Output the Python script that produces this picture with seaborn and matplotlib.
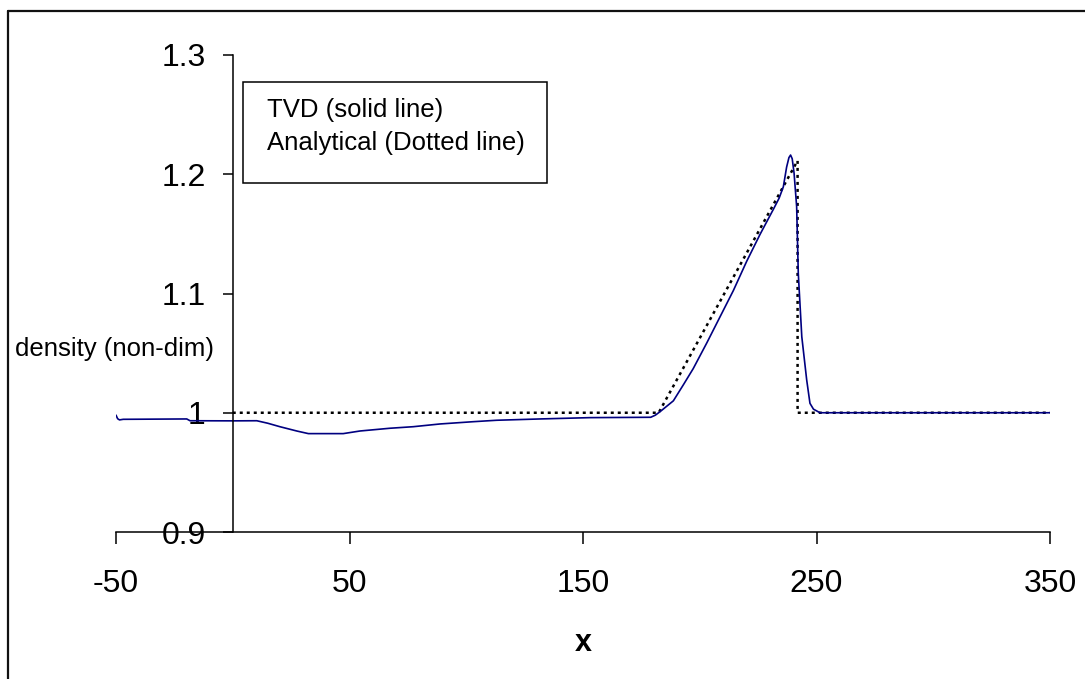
import matplotlib
matplotlib.use("Agg")
import matplotlib.pyplot as plt
import seaborn as sns
import pandas as pd
from matplotlib.lines import Line2D
from matplotlib.patches import Rectangle

# --- data ---
tvd_x = [-50, -49.3, -48.5, -46.9, -19.7, -18.3, 0.2, 10.3, 15.0, 20.2, 27.4, 32.4, 47.3,
         54.5, 67.3, 77.3, 88.8, 103, 113, 131.6, 153, 179, 181.0, 183.0, 188.7, 193.0,
         197.2, 203.0, 208.7, 214.4, 220.1, 225.8, 231.5, 234.0, 235.8, 237.2, 238.2,
         238.9, 239.6, 240.4, 241.5, 242.2, 243.7, 245.8, 247.2, 248.7, 251.5, 350]
tvd_y = [0.998, 0.9950, 0.9940, 0.9945, 0.9948, 0.9933, 0.9932, 0.9933, 0.9912, 0.9883,
         0.9847, 0.9825, 0.9825, 0.9847, 0.9870, 0.9883, 0.9906, 0.9925, 0.9937, 0.9948,
         0.9959, 0.9962, 0.9980, 1.0009, 1.0100, 1.0235, 1.0370, 1.0585, 1.0805, 1.1025,
         1.1270, 1.1495, 1.1705, 1.1800, 1.1895, 1.2060, 1.2140, 1.2161, 1.2130, 1.2008,
         1.1728, 1.1169, 1.0638, 1.0275, 1.0079, 1.0030, 1.0000, 1.0000]

ana_x = [0, 182.4, 241.9, 241.9, 350]
ana_y = [1.0, 1.0, 1.2114, 1.0, 1.0]

xticks = [-50, 50, 150, 250, 350]
yticks = [0.9, 1.0, 1.1, 1.2, 1.3]
ytick_labels = ["0.9", "1", "1.1", "1.2", "1.3"]

tvd = pd.DataFrame({"x": tvd_x, "y": tvd_y})
ana = pd.DataFrame({"x": ana_x, "y": ana_y})

sns.set_theme(style="white")
plt.rcParams["font.family"] = ["Liberation Sans", "DejaVu Sans"]

W, H = 1085, 679
fig = plt.figure(figsize=(W / 100, H / 100), dpi=100)
ax = fig.add_axes([116 / W, 1 - 532 / H, (1050 - 116) / W, (532 - 55) / H])

sns.lineplot(data=ana, x="x", y="y", ax=ax, sort=False, estimator=None,
             color="black", lw=1.8, linestyle=(0, (1.2, 1.6)))
sns.lineplot(data=tvd, x="x", y="y", ax=ax, sort=False, estimator=None,
             color="#000080", lw=1.2)

ax.set_xlim(-50, 350)
ax.set_ylim(0.9, 1.3)
ax.set_xticks(xticks)
ax.set_xticklabels([str(v) for v in xticks])
ax.set_yticks(yticks)
ax.set_yticklabels(ytick_labels)
ax.set_xlabel("")
ax.set_ylabel("")

for s in ["top", "right"]:
    ax.spines[s].set_visible(False)
ax.spines["left"].set_position(("data", 0))
for s in ["left", "bottom"]:
    ax.spines[s].set_color("black")
    ax.spines[s].set_linewidth(1.1)

ax.tick_params(axis="x", direction="out", length=8.5, width=1.1, color="black",
               pad=18, labelsize=23, bottom=True)
ax.tick_params(axis="y", direction="out", length=7.5, width=1.1, color="black",
               pad=12, labelsize=23, left=True)
for t in ax.get_xticklabels() + ax.get_yticklabels():
    t.set_color("black")

# axis titles
fig.text(583 / W, 1 - 643 / H, "x", ha="center", va="center",
         fontsize=22, fontweight="bold", color="black")
fig.text(15 / W, 1 - 349 / H, "density (non-dim)", ha="left", va="center",
         fontsize=18.5, color="black")

# legend-like text box
fig.patches.append(Rectangle((243 / W, 1 - 183 / H), (547 - 243) / W, (183 - 82) / H,
                             transform=fig.transFigure, fill=False,
                             edgecolor="black", lw=1.1))
fig.text(267 / W, 1 - 117 / H, "TVD (solid line)", ha="left", va="baseline",
         fontsize=18.5, color="black")
fig.text(267 / W, 1 - 150 / H, "Analytical (Dotted line)", ha="left", va="baseline",
         fontsize=18.5, color="black")

# outer chart border (only top and left visible)
fig.add_artist(Line2D([7.5 / W, 7.5 / W], [-0.1, 1 - 10.5 / H],
                      transform=fig.transFigure, color="#111111", lw=1.6))
fig.add_artist(Line2D([7.5 / W, 1.1], [1 - 10.5 / H, 1 - 10.5 / H],
                      transform=fig.transFigure, color="#111111", lw=1.6))

fig.savefig("out.png", dpi=100, facecolor="white")
